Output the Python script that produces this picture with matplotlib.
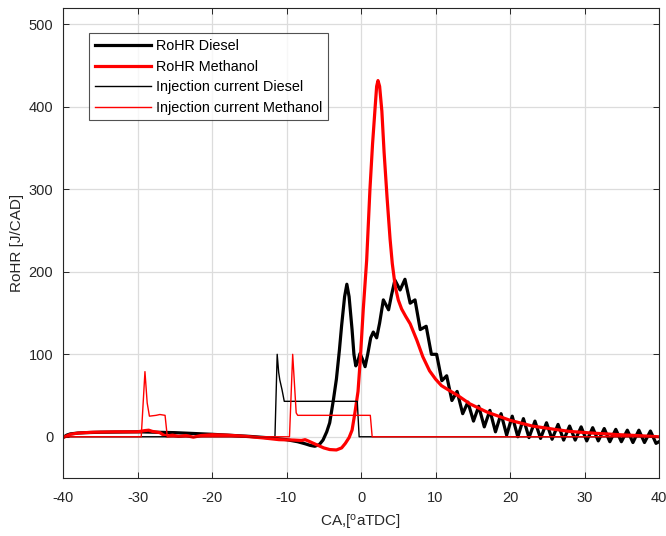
import matplotlib
matplotlib.use("Agg")
import matplotlib.pyplot as plt

# ---------------- data ----------------
# RoHR Diesel (thick black)
diesel_x = [-40, -39.5, -39, -38, -37, -35, -30, -25, -20, -17, -15, -12, -10, -8.5, -7.5,
            -6.8, -6.2, -5.6, -5.1, -4.6, -4.2, -3.7, -3.3, -2.9, -2.6, -2.2, -1.9, -1.6,
            -1.2, -0.95, -0.7, -0.4, -0.13, 0.2, 0.55, 0.9, 1.3, 1.65, 2.1, 2.5, 3.0, 3.7,
            4.1, 4.55, 5.25, 5.9, 6.6, 7.25, 7.95, 8.75, 9.45, 10.15, 10.85, 11.5, 12.2,
            12.9, 13.65, 14.35, 15.1, 15.8, 16.55, 17.3, 18.05, 18.8, 19.55, 20.3, 21.05,
            21.8, 22.55, 23.35, 24.1, 24.9, 25.65, 26.45, 27.2, 28.0, 28.75, 29.55, 30.3,
            31.1, 31.85, 32.65, 33.4, 34.2, 34.95, 35.75, 36.5, 37.3, 38.05, 38.85, 39.6, 40]
diesel_y = [-1, 2, 3.5, 4.5, 5, 5.5, 6, 5, 3, 1.5, 0.5, -1.5, -3.5, -6, -8.5,
            -10.5, -11.5, -9.5, -4, 6, 17, 45, 70, 105, 135, 170, 185, 170,
            130, 100, 86, 92, 101, 94, 85, 100, 120, 127, 120, 138, 166, 154,
            172, 190, 178, 191, 162, 166, 130, 134, 100, 100, 68, 74, 44,
            55, 28, 42, 19, 37, 12, 32, 6, 28, 2, 25, 0,
            22, -1, 19, -2, 17, -3, 15, -4, 13, -4, 12, -5,
            11, -5, 10, -6, 9, -6, 8, -7, 8, -7, 7, -8, -6]

# RoHR Methanol (thick red)
meth_x = [-40, -39.5, -39, -38, -36, -33, -30, -29, -28.5, -28, -27, -26.5, -26, -25.3,
          -24.5, -23.5, -22.5, -21.5, -20, -18, -15.5, -13, -11, -9, -8, -7.5, -7.1, -6,
          -5, -4.2, -3.3, -2.6, -2.1, -1.6, -1.2, -0.8, -0.4, -0.1, 0.3, 0.76, 1.2, 1.55,
          1.9, 2.1, 2.28, 2.5, 2.8, 3.1, 3.5, 3.9, 4.2, 4.6, 5.0, 5.45, 6.0, 6.6, 7.5,
          8.3, 9.2, 10.0, 10.8, 11.7, 13, 14.6, 16.9, 20, 23, 26, 28, 31, 34.7, 37, 40]
meth_y = [-1, 1, 3, 4.5, 5.5, 6, 6, 7.5, 8, 6.5, 5, 2, 1, 2,
          0.5, 1.5, -0.5, 1.5, 2.5, 2, 0.5, -1.5, -3.5, -4, -4.5, -3.5, -5, -9.5,
          -13.5, -15.5, -16, -13.5, -8, -1, 8, 30, 55, 93, 154, 214, 300, 355,
          400, 425, 432, 425, 395, 345, 290, 240, 210, 182, 166, 155, 146, 137, 117,
          97, 80, 70, 62, 57, 50, 40, 30, 20, 13, 9, 6.5, 4.5, 2.5, 1.5, 0]

# Injection current Diesel (thin black)
inj_d_x = [-40, -11.55, -11.25, -11.05, -10.9, -10.6, -10.3, -0.5, -0.25, 0.1, 40]
inj_d_y = [0, 0, 100, 78, 69, 57, 43, 43, 0, 0, 0]

# Injection current Methanol (thin red)
inj_m_x = [-40, -29.5, -29.0, -28.7, -28.4, -27.5, -27.0, -26.3, -26.0, -9.6, -9.17,
           -8.7, -8.5, 1.25, 1.5, 40]
inj_m_y = [0, 0, 79, 41, 25, 26, 27, 26, 0, 0, 100, 29, 26, 26, 0, 0]

x_ticks = [-40, -30, -20, -10, 0, 10, 20, 30, 40]
y_ticks = [0, 100, 200, 300, 400, 500]
labels = ["RoHR Diesel", "RoHR Methanol", "Injection current Diesel",
          "Injection current Methanol"]

# ---------------- plot ----------------
plt.rcParams['font.family'] = ['Liberation Sans', 'DejaVu Sans']
plt.rcParams['axes.unicode_minus'] = False
fig = plt.figure(figsize=(6.66, 5.36), dpi=100)
ax = fig.add_axes([63/666, 58/536, 596/666, 470/536])

ax.plot(diesel_x, diesel_y, color='black', lw=2.3, label=labels[0])
ax.plot(meth_x, meth_y, color='#ff0000', lw=2.3, label=labels[1])
ax.plot(inj_d_x, inj_d_y, color='black', lw=1.0, label=labels[2])
ax.plot(inj_m_x, inj_m_y, color='#ff0000', lw=1.0, label=labels[3])

ax.set_xlim(-40, 40)
ax.set_ylim(-50, 520)
ax.set_xticks(x_ticks)
ax.set_yticks(y_ticks)
ax.grid(True, color='#dcdcdc', lw=0.9)
ax.set_axisbelow(True)
ax.tick_params(direction='in', length=4, width=0.7, colors='#262626',
               labelsize=10.5, top=True, right=True)
ax.tick_params(axis='x', pad=9)
ax.tick_params(axis='y', pad=7)
for s in ax.spines.values():
    s.set_color('#262626')
    s.set_linewidth(0.8)

ax.set_xlabel('CA,[$\\mathregular{^{o}}$aTDC]', fontsize=11, color='#262626', labelpad=6)
ax.set_ylabel('RoHR [J/CAD]', fontsize=11, color='#262626', labelpad=3)

leg = ax.legend(loc='upper left', bbox_to_anchor=(0.044, 0.946), fontsize=10.4,
                handlelength=3.9, frameon=True, fancybox=False, borderpad=0.4,
                labelspacing=0.45, handletextpad=0.35, borderaxespad=0)
leg.get_frame().set_edgecolor('#262626')
leg.get_frame().set_linewidth(0.8)

fig.savefig('out.png', dpi=100)
